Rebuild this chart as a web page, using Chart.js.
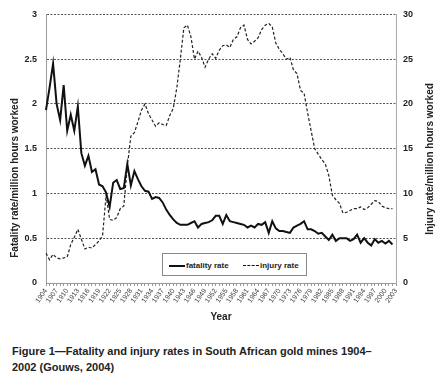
<!DOCTYPE html>
<html>
<head>
<meta charset="utf-8">
<script src="https://cdn.jsdelivr.net/npm/chart.js@4.4.1/dist/chart.umd.min.js"></script>
<style>
  body { margin: 0; background: #fff; font-family: "Liberation Sans", Arial, sans-serif; }
  #wrap { position: relative; width: 446px; height: 387px; }
  #box { position: absolute; left: 0; top: 0; width: 446px; height: 326px; }
  .legend {
    position: absolute; left: 162px; top: 253px; width: 145px; height: 23px;
    border: 1px solid #888; background: #fff; box-sizing: border-box;
    font: bold 8px "Liberation Sans", Arial, sans-serif; color: #222;
  }
  .legend .item { position: absolute; top: 7px; white-space: nowrap; }
  .legend .sw { display: inline-block; width: 16px; vertical-align: middle; margin-right: 1px; }
  .caption {
    position: absolute; left: 12px; top: 343px;
    font: bold 11px "Liberation Sans", Arial, sans-serif; color: #222; line-height: 16px;
  }
</style>
</head>
<body>
<div id="wrap">
  <div id="box"><canvas id="chart"></canvas></div>
  <div class="legend">
    <span class="item" style="left:6px"><span class="sw" style="border-top:2px solid #111"></span>fatality rate</span>
    <span class="item" style="left:80px"><span class="sw" style="border-top:1px dashed #111"></span>injury rate</span>
  </div>
  <div class="caption">Figure 1—Fatality and injury rates in South African gold mines 1904–<br>2002 (Gouws, 2004)</div>
</div>
<script>
// categories on the x axis (last one only carries the 2003 tick)
const years = [1904, 1905, 1906, 1907, 1908, 1909, 1910, 1911, 1912, 1913,
  1914, 1915, 1916, 1917, 1918, 1919, 1920, 1921, 1922, 1923,
  1924, 1925, 1926, 1927, 1928, 1929, 1930, 1931, 1932, 1933,
  1934, 1935, 1936, 1937, 1938, 1939, 1940, 1941, 1942, 1943,
  1944, 1945, 1946, 1947, 1948, 1949, 1950, 1951, 1952, 1953,
  1954, 1955, 1956, 1957, 1958, 1959, 1960, 1961, 1962, 1963,
  1964, 1965, 1966, 1967, 1968, 1969, 1970, 1971, 1972, 1973,
  1974, 1975, 1976, 1977, 1978, 1979, 1980, 1981, 1982, 1983,
  1984, 1985, 1986, 1987, 1988, 1989, 1990, 1991, 1992, 1993,
  1994, 1995, 1996, 1997, 1998, 1999, 2000, 2001, 2002, 2003];

// fatality rate per million hours worked, 1904-2002
const fatalityRate = [1.93, 2.18, 2.45, 2.00, 1.82, 2.21, 1.70, 1.88, 1.70, 1.97,
  1.45, 1.31, 1.42, 1.24, 1.27, 1.10, 1.08, 1.01, 0.85, 1.12,
  1.15, 1.05, 1.06, 1.33, 1.09, 1.25, 1.16, 1.08, 1.03, 1.02,
  0.94, 0.96, 0.95, 0.90, 0.82, 0.76, 0.71, 0.67, 0.65, 0.65,
  0.65, 0.67, 0.69, 0.62, 0.66, 0.67, 0.68, 0.70, 0.75, 0.75,
  0.66, 0.76, 0.69, 0.68, 0.67, 0.66, 0.65, 0.62, 0.64, 0.62,
  0.66, 0.65, 0.68, 0.56, 0.69, 0.61, 0.58, 0.58, 0.57, 0.56,
  0.62, 0.64, 0.66, 0.69, 0.60, 0.60, 0.58, 0.55, 0.56, 0.52,
  0.48, 0.54, 0.47, 0.50, 0.50, 0.50, 0.47, 0.49, 0.54, 0.45,
  0.50, 0.45, 0.42, 0.49, 0.45, 0.47, 0.44, 0.47, 0.43];

// injury rate per million hours worked, 1904-2002
const injuryRate = [3.35, 2.6, 3.2, 2.8, 2.7, 2.8, 2.9, 4.3, 5.1, 6.0,
  4.9, 3.8, 4.0, 3.9, 4.3, 4.7, 5.3, 9.8, 7.1, 7.0,
  7.3, 8.3, 8.6, 13.0, 16.4, 16.8, 18.0, 19.3, 20.0, 18.9,
  18.2, 17.5, 17.9, 17.7, 17.6, 18.7, 19.5, 21.8, 25.0, 28.5,
  28.8, 27.5, 25.0, 25.9, 25.2, 24.1, 25.0, 25.6, 25.1, 26.0,
  26.5, 26.6, 26.3, 27.2, 27.5, 28.5, 28.8, 27.2, 26.7, 27.0,
  27.4, 28.3, 28.8, 29.0, 28.6, 26.8, 26.1, 25.6, 25.0, 25.2,
  23.8, 23.4, 21.5, 21.2, 19.0, 17.0, 15.0, 14.4, 13.8, 13.3,
  12.0, 9.8, 9.3, 8.9, 7.8, 7.9, 8.1, 8.3, 8.3, 8.5,
  8.2, 8.4, 8.8, 9.2, 9.1, 8.6, 8.4, 8.3, 8.3];

const tickFont = { family: '"Liberation Sans", Arial, sans-serif', size: 9, weight: 'bold' };

// vertical axis titles, both reading bottom to top
const axisTitles = {
  id: 'axisTitles',
  afterDraw(chart) {
    const ctx = chart.ctx;
    ctx.save();
    ctx.font = 'bold 10px "Liberation Sans", Arial, sans-serif';
    ctx.fillStyle = '#222';
    ctx.textAlign = 'center';
    ctx.textBaseline = 'middle';
    ctx.translate(15, 178);
    ctx.rotate(-Math.PI / 2);
    ctx.fillText('Fatality rate/million hours worked', 0, 0);
    ctx.restore();
    ctx.save();
    ctx.font = 'bold 10px "Liberation Sans", Arial, sans-serif';
    ctx.fillStyle = '#222';
    ctx.textAlign = 'center';
    ctx.textBaseline = 'middle';
    ctx.translate(430, 159);
    ctx.rotate(-Math.PI / 2);
    ctx.fillText('Injury rate/million hours worked', 0, 0);
    ctx.restore();
  }
};

new Chart(document.getElementById('chart'), {
  type: 'line',
  data: {
    labels: years,
    datasets: [{
      label: 'fatality rate',
      data: fatalityRate,
      yAxisID: 'y',
      borderColor: '#111',
      borderWidth: 2,
      pointRadius: 0,
      tension: 0,
      fill: false
    }, {
      label: 'injury rate',
      data: injuryRate,
      yAxisID: 'y1',
      borderColor: '#222',
      borderWidth: 1.2,
      borderDash: [3, 2],
      pointRadius: 0,
      tension: 0,
      fill: false
    }]
  },
  options: {
    responsive: true,
    maintainAspectRatio: false,
    animation: false,
    layout: { padding: { top: 12 } },
    plugins: {
      legend: { display: false },
      tooltip: { enabled: false }
    },
    scales: {
      x: {
        offset: false,
        grid: { drawOnChartArea: false, drawTicks: true, tickLength: 3, color: '#999' },
        border: { color: '#999' },
        ticks: {
          autoSkip: false,
          maxRotation: 55,
          minRotation: 55,
          padding: 1,
          color: '#444',
          font: { family: '"Liberation Sans", Arial, sans-serif', size: 7 },
          callback: function (value, index) {
            return (years[index] - 1904) % 3 === 0 ? String(years[index]) : '';
          }
        },
        title: {
          display: true,
          text: 'Year',
          color: '#222',
          padding: { top: 0, bottom: 3 },
          font: { family: '"Liberation Sans", Arial, sans-serif', size: 10, weight: 'bold' }
        },
        afterFit: function (scale) { scale.height = 43; }
      },
      y: {
        position: 'left',
        min: 0,
        max: 3,
        ticks: { stepSize: 0.5, padding: 9, color: '#222', font: tickFont, callback: v => v },
        grid: { color: '#555', lineWidth: 1, drawTicks: false },
        border: { color: '#999', dash: [2, 1.5] },
        afterFit: function (scale) { scale.width = 46; }
      },
      y1: {
        position: 'right',
        min: 0,
        max: 30,
        ticks: { stepSize: 5, padding: 7, color: '#222', font: tickFont },
        grid: { drawOnChartArea: false, drawTicks: false },
        border: { color: '#aaa' },
        afterFit: function (scale) { scale.width = 50; }
      }
    }
  },
  plugins: [axisTitles]
});
</script>
</body>
</html>
